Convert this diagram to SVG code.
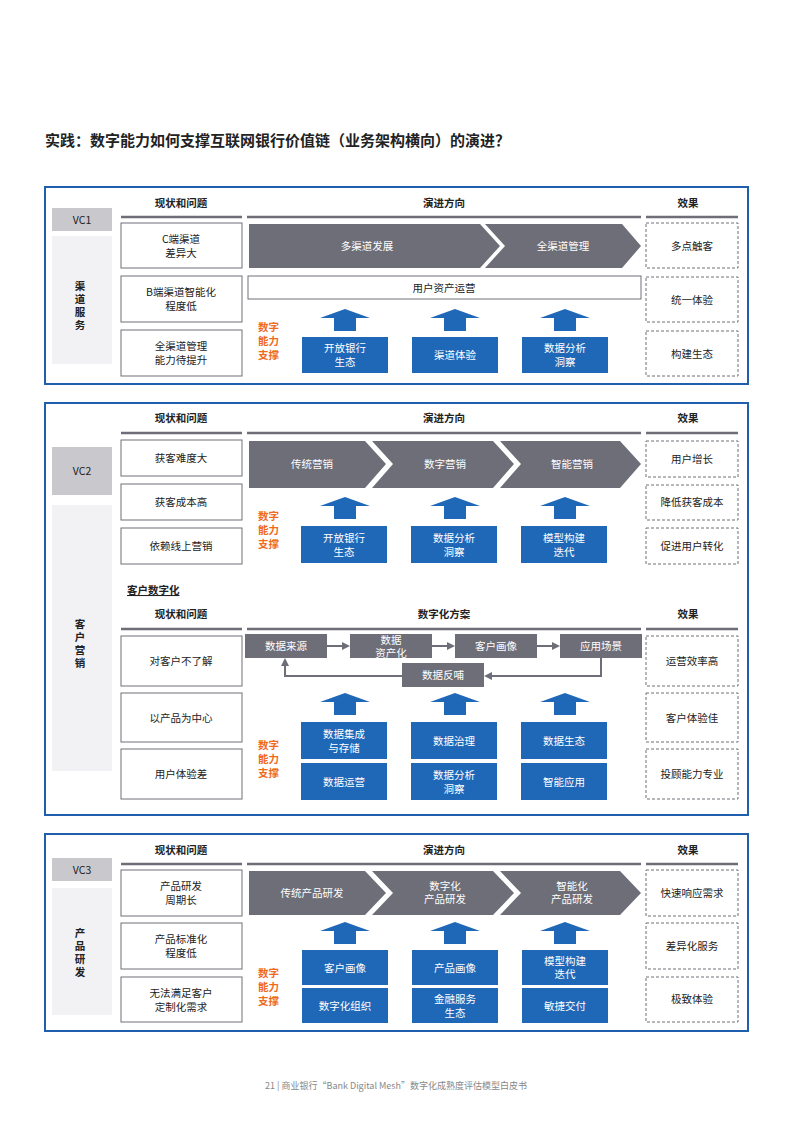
<svg xmlns="http://www.w3.org/2000/svg" width="793" height="1122" viewBox="0 0 793 1122">
<style>
text{font-family:"Noto Sans CJK SC","Noto Sans",sans-serif;fill:#222;}
.t{font-size:15px;font-weight:bold}
.h{font-size:10.5px;font-weight:bold;text-anchor:middle}
.c{font-size:10.5px;text-anchor:middle}
.w{font-size:10.5px;text-anchor:middle;fill:#fff}
.o{font-size:10.5px;fill:#f06a1e;font-weight:bold}
.panel{fill:#fff;stroke:#1f5fae;stroke-width:2}
.hl{stroke:#6e6e78;stroke-width:2.5}
.lb{fill:#fff;stroke:#6e6e78;stroke-width:1}
.eb{fill:#fff;stroke:#6e6e78;stroke-width:1;stroke-dasharray:3,2}
.g{fill:#6e6e78}
.b{fill:#1f68b8}
.vc{fill:#c8c8cd}
.sd{fill:#f2f2f4}
.cn{stroke:#6e6e78;stroke-width:2;fill:none}
</style>
<defs>
<marker id="ah" markerWidth="8" markerHeight="8" refX="6" refY="4" orient="auto" markerUnits="userSpaceOnUse"><path d="M0,0 L8,4 L0,8 z" fill="#6e6e78"/></marker>
<path id="up" d="M-25,9 L0,0 L25,9 L11,9 L11,22 L-11,22 L-11,9 z" fill="#1f68b8"/>
</defs>
<text class="t" x="45" y="146">实践：数字能力如何支撑互联网银行价值链（业务架构横向）的演进？</text>

<!-- Panel 1 -->
<g id="vc1">
<rect class="panel" x="45" y="187" width="703" height="197"/>
<rect class="vc" x="52" y="208" width="60" height="23"/>
<text class="h" x="82" y="224" style="font-weight:normal">VC1</text>
<rect class="sd" x="52" y="236" width="60" height="128"/>
<text class="h" x="80" y="290">渠</text><text class="h" x="80" y="303">道</text><text class="h" x="80" y="316">服</text><text class="h" x="80" y="329">务</text>
<text class="h" x="181" y="207">现状和问题</text><line class="hl" x1="121" y1="217" x2="242" y2="217"/>
<text class="h" x="444" y="207">演进方向</text><line class="hl" x1="247" y1="217" x2="641" y2="217"/>
<text class="h" x="688" y="207">效果</text><line class="hl" x1="646" y1="217" x2="738" y2="217"/>
<rect class="lb" x="121" y="223" width="121" height="45"/><text class="c" x="181" y="243">C端渠道</text><text class="c" x="181" y="257">差异大</text>
<rect class="lb" x="121" y="276" width="121" height="46"/><text class="c" x="181" y="296">B端渠道智能化</text><text class="c" x="181" y="310">程度低</text>
<rect class="lb" x="121" y="330" width="121" height="46"/><text class="c" x="181" y="350">全渠道管理</text><text class="c" x="181" y="364">能力待提升</text>
<polygon class="g" points="249,224 480,224 500,246 480,268 249,268"/><text class="w" x="367" y="250">多渠道发展</text>
<polygon class="g" points="485,224 622,224 641,246 622,268 485,268 505,246"/><text class="w" x="563" y="250">全渠道管理</text>
<rect class="lb" x="248" y="276" width="393" height="23"/><text class="c" x="444" y="292">用户资产运营</text>
<use href="#up" x="345" y="309"/><use href="#up" x="455" y="309"/><use href="#up" x="565" y="309"/>
<text class="o" x="258" y="331">数字</text><text class="o" x="258" y="345">能力</text><text class="o" x="258" y="359">支撑</text>
<rect class="b" x="302" y="337" width="86" height="36"/><text class="w" x="345" y="352">开放银行</text><text class="w" x="345" y="366">生态</text>
<rect class="b" x="412" y="337" width="86" height="36"/><text class="w" x="455" y="359">渠道体验</text>
<rect class="b" x="522" y="337" width="86" height="36"/><text class="w" x="565" y="352">数据分析</text><text class="w" x="565" y="366">洞察</text>
<rect class="eb" x="646" y="223" width="92" height="45"/><text class="c" x="692" y="250">多点触客</text>
<rect class="eb" x="646" y="277" width="92" height="45"/><text class="c" x="692" y="304">统一体验</text>
<rect class="eb" x="646" y="331" width="92" height="45"/><text class="c" x="692" y="358">构建生态</text>
</g>

<!-- Panel 2 -->
<g id="vc2">
<rect class="panel" x="45" y="403" width="703" height="412"/>
<rect class="vc" x="52" y="447" width="60" height="48"/>
<text class="h" x="82" y="475" style="font-weight:normal">VC2</text>
<rect class="sd" x="52" y="505" width="60" height="266"/>
<text class="h" x="80" y="628">客</text><text class="h" x="80" y="641">户</text><text class="h" x="80" y="654">营</text><text class="h" x="80" y="667">销</text>
<text class="h" x="181" y="422">现状和问题</text><line class="hl" x1="121" y1="433" x2="242" y2="433"/>
<text class="h" x="444" y="422">演进方向</text><line class="hl" x1="247" y1="433" x2="641" y2="433"/>
<text class="h" x="688" y="422">效果</text><line class="hl" x1="646" y1="433" x2="738" y2="433"/>
<rect class="lb" x="121" y="440" width="121" height="36"/><text class="c" x="181" y="462">获客难度大</text>
<rect class="lb" x="121" y="484" width="121" height="36"/><text class="c" x="181" y="506">获客成本高</text>
<rect class="lb" x="121" y="528" width="121" height="36"/><text class="c" x="181" y="550">依赖线上营销</text>
<polygon class="g" points="249,441 365,441 386,464 365,488 249,488"/><text class="w" x="312" y="468">传统营销</text>
<polygon class="g" points="372,441 493,441 514,464 493,488 372,488 393,464"/><text class="w" x="445" y="468">数字营销</text>
<polygon class="g" points="500,441 620,441 641,464 620,488 500,488 521,464"/><text class="w" x="572" y="468">智能营销</text>
<use href="#up" x="345" y="497"/><use href="#up" x="455" y="497"/><use href="#up" x="565" y="497"/>
<text class="o" x="258" y="520">数字</text><text class="o" x="258" y="534">能力</text><text class="o" x="258" y="548">支撑</text>
<rect class="b" x="301" y="526" width="86" height="37"/><text class="w" x="344" y="542">开放银行</text><text class="w" x="344" y="556">生态</text>
<rect class="b" x="411" y="526" width="86" height="37"/><text class="w" x="454" y="542">数据分析</text><text class="w" x="454" y="556">洞察</text>
<rect class="b" x="521" y="526" width="86" height="37"/><text class="w" x="564" y="542">模型构建</text><text class="w" x="564" y="556">迭代</text>
<rect class="eb" x="646" y="441" width="92" height="36"/><text class="c" x="692" y="463">用户增长</text>
<rect class="eb" x="646" y="485" width="92" height="35"/><text class="c" x="692" y="506">降低获客成本</text>
<rect class="eb" x="646" y="528" width="92" height="36"/><text class="c" x="692" y="550">促进用户转化</text>
<text class="h" x="127" y="594" style="text-anchor:start;text-decoration:underline">客户数字化</text>
<text class="h" x="181" y="618">现状和问题</text><line class="hl" x1="121" y1="629" x2="242" y2="629"/>
<text class="h" x="444" y="618">数字化方案</text><line class="hl" x1="247" y1="629" x2="641" y2="629"/>
<text class="h" x="688" y="618">效果</text><line class="hl" x1="646" y1="629" x2="738" y2="629"/>
<rect class="lb" x="121" y="636" width="121" height="50"/><text class="c" x="181" y="665">对客户不了解</text>
<rect class="lb" x="121" y="693" width="121" height="49"/><text class="c" x="181" y="722">以产品为中心</text>
<rect class="lb" x="121" y="749" width="121" height="50"/><text class="c" x="181" y="778">用户体验差</text>
<rect class="g" x="245" y="634" width="82" height="24"/><text class="w" x="286" y="650">数据来源</text>
<rect class="g" x="350" y="634" width="82" height="24"/><text class="w" x="391" y="644">数据</text><text class="w" x="391" y="657">资产化</text>
<rect class="g" x="455" y="634" width="82" height="24"/><text class="w" x="496" y="650">客户画像</text>
<rect class="g" x="560" y="634" width="82" height="24"/><text class="w" x="601" y="650">应用场景</text>
<rect class="g" x="402" y="663" width="82" height="24"/><text class="w" x="443" y="679">数据反哺</text>
<use href="#up" x="345" y="693"/><use href="#up" x="455" y="693"/><use href="#up" x="565" y="693"/>
<text class="o" x="258" y="749">数字</text><text class="o" x="258" y="763">能力</text><text class="o" x="258" y="777">支撑</text>
<rect class="b" x="301" y="722" width="86" height="37"/><text class="w" x="344" y="738">数据集成</text><text class="w" x="344" y="752">与存储</text>
<rect class="b" x="411" y="722" width="86" height="37"/><text class="w" x="454" y="745">数据治理</text>
<rect class="b" x="521" y="722" width="86" height="37"/><text class="w" x="564" y="745">数据生态</text>
<rect class="b" x="301" y="763" width="86" height="37"/><text class="w" x="344" y="786">数据运营</text>
<rect class="b" x="411" y="763" width="86" height="37"/><text class="w" x="454" y="779">数据分析</text><text class="w" x="454" y="793">洞察</text>
<rect class="b" x="521" y="763" width="86" height="37"/><text class="w" x="564" y="786">智能应用</text>
<rect class="eb" x="646" y="636" width="92" height="50"/><text class="c" x="692" y="665">运营效率高</text>
<rect class="eb" x="646" y="693" width="92" height="49"/><text class="c" x="692" y="722">客户体验佳</text>
<rect class="eb" x="646" y="749" width="92" height="50"/><text class="c" x="692" y="778">投顾能力专业</text>
</g>

<g id="connectors">
<line class="cn" x1="327" y1="646" x2="348" y2="646" marker-end="url(#ah)"/>
<line class="cn" x1="432" y1="646" x2="453" y2="646" marker-end="url(#ah)"/>
<line class="cn" x1="537" y1="646" x2="558" y2="646" marker-end="url(#ah)"/>
<polyline class="cn" points="601,658 601,676 486,676" marker-end="url(#ah)"/>
<polyline class="cn" points="402,676 285,676 285,660" marker-end="url(#ah)"/>
</g>

<!-- Panel 3 -->
<g id="vc3">
<rect class="panel" x="45" y="834" width="703" height="197"/>
<rect class="vc" x="52" y="858" width="60" height="23"/>
<text class="h" x="82" y="874" style="font-weight:normal">VC3</text>
<rect class="sd" x="52" y="888" width="60" height="127"/>
<text class="h" x="80" y="937">产</text><text class="h" x="80" y="950">品</text><text class="h" x="80" y="963">研</text><text class="h" x="80" y="976">发</text>
<text class="h" x="181" y="854">现状和问题</text><line class="hl" x1="121" y1="864" x2="242" y2="864"/>
<text class="h" x="444" y="854">演进方向</text><line class="hl" x1="247" y1="864" x2="641" y2="864"/>
<text class="h" x="688" y="854">效果</text><line class="hl" x1="646" y1="864" x2="738" y2="864"/>
<rect class="lb" x="121" y="870" width="121" height="46"/><text class="c" x="181" y="890">产品研发</text><text class="c" x="181" y="904">周期长</text>
<rect class="lb" x="121" y="923" width="121" height="46"/><text class="c" x="181" y="943">产品标准化</text><text class="c" x="181" y="957">程度低</text>
<rect class="lb" x="121" y="977" width="121" height="45"/><text class="c" x="181" y="997">无法满足客户</text><text class="c" x="181" y="1011">定制化需求</text>
<polygon class="g" points="249,871 365,871 386,893 365,915 249,915"/><text class="w" x="312" y="897">传统产品研发</text>
<polygon class="g" points="372,871 493,871 514,893 493,915 372,915 393,893"/><text class="w" x="445" y="890">数字化</text><text class="w" x="445" y="903">产品研发</text>
<polygon class="g" points="500,871 620,871 641,893 620,915 500,915 521,893"/><text class="w" x="572" y="890">智能化</text><text class="w" x="572" y="903">产品研发</text>
<use href="#up" x="345" y="922"/><use href="#up" x="455" y="922"/><use href="#up" x="565" y="922"/>
<text class="o" x="258" y="977">数字</text><text class="o" x="258" y="991">能力</text><text class="o" x="258" y="1005">支撑</text>
<rect class="b" x="302" y="950" width="86" height="35"/><text class="w" x="345" y="972">客户画像</text>
<rect class="b" x="412" y="950" width="86" height="35"/><text class="w" x="455" y="972">产品画像</text>
<rect class="b" x="522" y="950" width="86" height="35"/><text class="w" x="565" y="965">模型构建</text><text class="w" x="565" y="978">迭代</text>
<rect class="b" x="302" y="988" width="86" height="35"/><text class="w" x="345" y="1010">数字化组织</text>
<rect class="b" x="412" y="988" width="86" height="35"/><text class="w" x="455" y="1003">金融服务</text><text class="w" x="455" y="1017">生态</text>
<rect class="b" x="522" y="988" width="86" height="35"/><text class="w" x="565" y="1010">敏捷交付</text>
<rect class="eb" x="646" y="870" width="92" height="46"/><text class="c" x="692" y="897">快速响应需求</text>
<rect class="eb" x="646" y="923" width="92" height="46"/><text class="c" x="692" y="950">差异化服务</text>
<rect class="eb" x="646" y="977" width="92" height="45"/><text class="c" x="692" y="1003">极致体验</text>
</g>
<text x="396" y="1089" style="font-size:9px;fill:#888;text-anchor:middle">21  |  商业银行“Bank Digital Mesh”数字化成熟度评估模型白皮书</text>
</svg>
